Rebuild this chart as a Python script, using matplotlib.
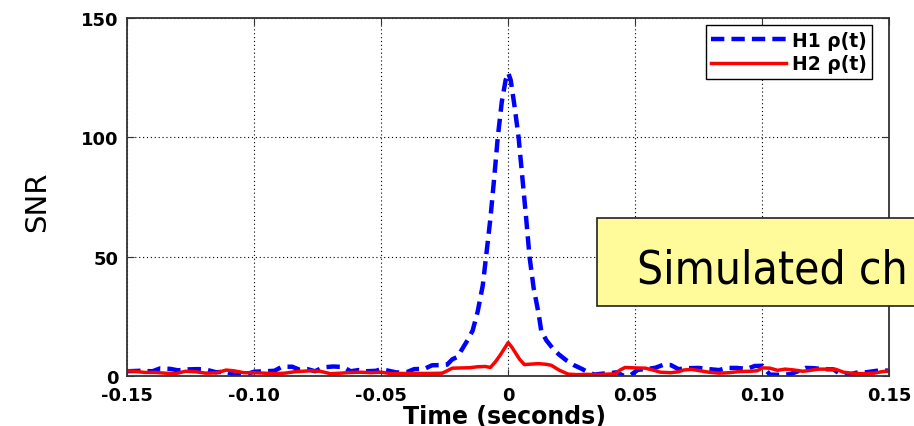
import numpy as np
import matplotlib.pyplot as plt
from matplotlib.patches import Rectangle

# H1 的 SNR 时间序列
t_h1 = [-0.150, -0.145, -0.140, -0.137, -0.133, -0.130, -0.126, -0.122, -0.119, -0.115,
        -0.111, -0.108, -0.104, -0.100, -0.096, -0.092, -0.089, -0.085, -0.082, -0.079,
        -0.076, -0.073, -0.069, -0.065, -0.062, -0.059, -0.056, -0.052, -0.050, -0.047,
        -0.044, -0.040, -0.037, -0.033, -0.030, -0.026, -0.024, -0.022, -0.020, -0.018,
        -0.016, -0.014, -0.012, -0.010, -0.0087, -0.007, -0.0055, -0.0041, -0.0025, -0.001,
        0.000, 0.001, 0.0025, 0.0041, 0.0055, 0.007, 0.0084, 0.010, 0.012, 0.013,
        0.015, 0.0176, 0.020, 0.023, 0.026, 0.029, 0.0315, 0.034, 0.037, 0.040,
        0.043, 0.045, 0.048, 0.051, 0.055, 0.058, 0.061, 0.064, 0.067, 0.071,
        0.075, 0.079, 0.083, 0.086, 0.090, 0.094, 0.097, 0.100, 0.103, 0.107,
        0.111, 0.114, 0.117, 0.120, 0.124, 0.128, 0.131, 0.134, 0.137, 0.141,
        0.145, 0.150]
snr_h1 = [2.0, 2.2, 2.0, 3.2, 3.0, 2.4, 2.8, 2.9, 2.7, 1.6,
          1.8, 0.6, 0.5, 1.8, 2.0, 2.2, 3.9, 3.9, 2.6, 2.9,
          2.0, 3.6, 4.0, 3.8, 2.0, 2.5, 2.0, 2.2, 2.9, 2.2,
          1.5, 1.6, 2.9, 3.0, 4.5, 4.6, 4.8, 7.0, 8.0, 11.5,
          15, 19, 27, 38, 50, 66, 83, 100, 115, 124,
          127, 124, 113, 100, 84, 67, 50, 37, 26, 19,
          15, 11.5, 9.0, 6.5, 4.5, 3.0, 1.5, 0.6, 1.0, 1.2,
          1.6, 0.2, 0.2, 2.6, 3.0, 3.5, 4.7, 4.6, 2.9, 3.3,
          3.4, 2.9, 2.5, 3.4, 3.4, 3.0, 4.2, 4.3, 0.6, 0.5,
          0.8, 2.0, 3.4, 3.3, 2.9, 2.8, 0.6, 0.5, 1.4, 1.6,
          2.2, 2.3]

# H2 的 SNR 时间序列
t_h2 = [-0.150, -0.147, -0.143, -0.139, -0.135, -0.131, -0.127, -0.123, -0.119, -0.115,
        -0.111, -0.108, -0.104, -0.100, -0.096, -0.092, -0.088, -0.084, -0.081, -0.078,
        -0.074, -0.070, -0.066, -0.062, -0.058, -0.054, -0.050, -0.046, -0.042, -0.038,
        -0.034, -0.030, -0.026, -0.024, -0.022, -0.018, -0.015, -0.012, -0.009, -0.007,
        -0.005, -0.003, -0.0015, 0.000, 0.0015, 0.003, 0.0045, 0.0064, 0.009, 0.012,
        0.015, 0.017, 0.020, 0.0236, 0.027, 0.031, 0.035, 0.039, 0.042, 0.044,
        0.046, 0.050, 0.054, 0.057, 0.060, 0.064, 0.067, 0.069, 0.072, 0.075,
        0.079, 0.083, 0.087, 0.091, 0.095, 0.098, 0.100, 0.103, 0.106, 0.109,
        0.112, 0.116, 0.119, 0.122, 0.126, 0.129, 0.132, 0.136, 0.140, 0.144,
        0.147, 0.150]
snr_h2 = [2.2, 2.0, 1.5, 1.5, 1.2, 1.0, 2.0, 1.8, 1.2, 1.3,
          2.5, 2.2, 1.4, 1.4, 1.2, 1.0, 1.2, 1.8, 2.0, 2.2,
          2.0, 1.0, 1.2, 1.5, 1.6, 1.4, 1.6, 1.0, 1.1, 1.0,
          1.1, 1.1, 1.2, 2.2, 3.3, 3.4, 3.5, 3.9, 4.0, 3.6,
          6.0, 9.0, 11.5, 14.0, 12.0, 9.5, 7.0, 4.8, 5.0, 5.2,
          4.9, 4.5, 2.5, 0.8, 0.6, 0.7, 0.6, 0.8, 0.9, 2.5,
          3.6, 3.4, 3.3, 2.5, 1.6, 1.4, 1.8, 2.5, 2.8, 2.3,
          1.6, 1.2, 1.4, 1.9, 2.0, 2.2, 3.4, 3.3, 2.4, 2.9,
          2.6, 2.0, 2.4, 2.9, 2.9, 2.8, 1.6, 1.1, 1.0, 1.2,
          1.8, 2.2]

xticks = [-0.15, -0.10, -0.05, 0, 0.05, 0.10, 0.15]
xtick_labels = ['-0.15', '-0.10', '-0.05', '0', '0.05', '0.10', '0.15']
yticks = [0, 50, 100, 150]

fig = plt.figure(figsize=(9.14, 4.27), dpi=100)
ax = fig.add_axes([0.139, 0.117, 0.834, 0.8385])

l1, = ax.plot(t_h1, snr_h1, color='#0000ff', linewidth=3.2, linestyle='--',
              label='H1 ρ(t)')
l1.set_dashes([3.0, 1.6])
ax.plot(t_h2, snr_h2, color='#ff0000', linewidth=2.5, label='H2 ρ(t)')

ax.set_xlim(-0.15, 0.15)
ax.set_ylim(0, 150)
ax.set_xticks(xticks)
ax.set_xticklabels(xtick_labels)
ax.set_yticks(yticks)
ax.grid(True, color='black', linestyle=(0, (1, 2.5)), linewidth=0.8)
ax.tick_params(direction='in', length=5, top=True, right=True, pad=6,
               labelsize=13, color='#333333')
ax.tick_params(axis='x', pad=7.5)
for lab in ax.get_xticklabels() + ax.get_yticklabels():
    lab.set_fontweight('bold')
for sp in ax.spines.values():
    sp.set_color('#333333')
    sp.set_linewidth(1.3)

ax.set_xlabel('Time (seconds)', fontsize=17, fontweight='bold')
ax.xaxis.set_label_coords(0.495, -0.077)
ax.set_ylabel('SNR', fontsize=21)
ax.yaxis.set_label_coords(-0.100, 0.49)

leg = ax.legend(loc='upper right', bbox_to_anchor=(0.9777, 0.9804), borderaxespad=0,
                fancybox=False, edgecolor='black', framealpha=1,
                prop={'weight': 'bold', 'size': 13.5}, handlelength=4.0,
                handletextpad=0.3, labelspacing=0.25, borderpad=0.3)
leg.get_frame().set_linewidth(1.0)

# 黄色注释框
fig.patches.append(Rectangle((0.653, 0.281), 0.36, 0.206, transform=fig.transFigure,
                             facecolor='#fffb9a', edgecolor='#222222', linewidth=1.2,
                             zorder=10))
fig.text(637 / 914, 0.337, 'Simulated ch', fontsize=33, fontstretch='condensed',
         va='baseline', ha='left', zorder=11)

plt.savefig('out.png', dpi=100)
